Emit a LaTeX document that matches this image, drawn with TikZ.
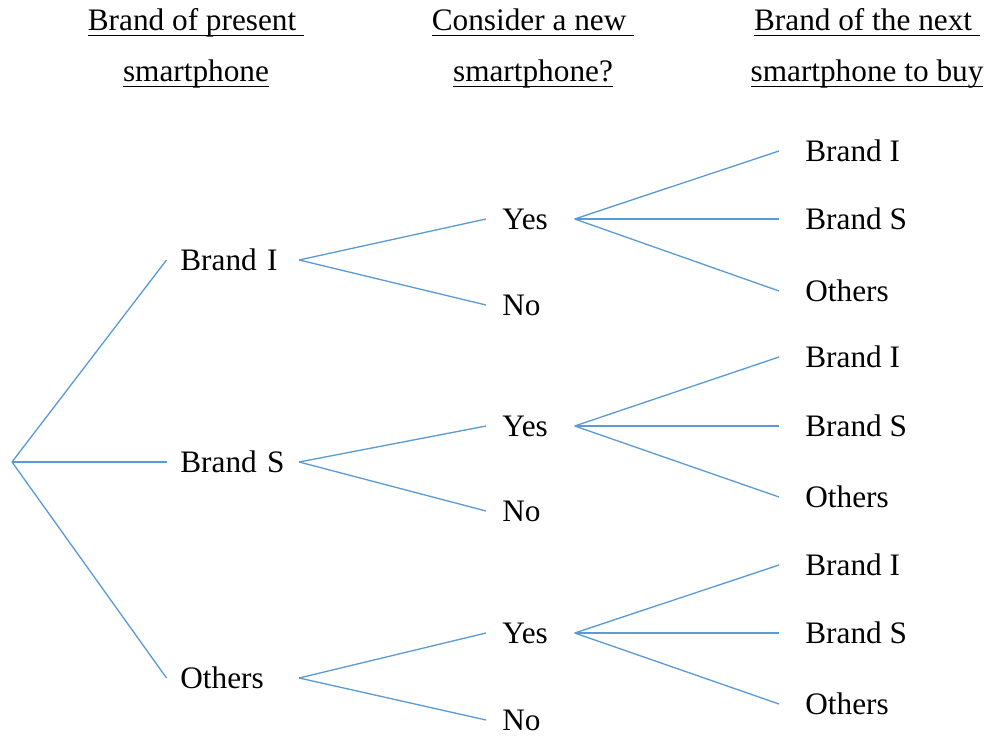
\documentclass[tikz,border=0pt]{standalone}
\usepackage{fontspec}
\setmainfont{Liberation Serif}
\usepackage{tikz}
\definecolor{branchBlue}{RGB}{91,155,213}
\newcommand{\ulhead}[1]{\setbox0=\hbox{#1}\rlap{\rule[-3pt]{\wd0}{0.8pt}}\box0}

\begin{document}
\begin{tikzpicture}[x=0.02cm, y=-0.02cm, font=\fontsize{17.8}{21.4}\selectfont]
			\tikzset{branch/.style={draw=branchBlue,line width=0.75pt}}
			\tikzset{brand/.style={anchor=west,inner ysep=0pt,inner xsep=0.27cm,text height=11.8pt,text depth=0pt,text width=2.1cm,align=left}}
			\tikzset{answer/.style={brand,inner xsep=0.32cm,text width=1.12cm}}
			\tikzset{leaf/.style={anchor=west,inner ysep=0pt,inner xsep=0.52cm,text height=11.8pt,text depth=0pt}}
			\tikzset{head/.style={anchor=base,inner sep=0pt}}
			\useasboundingbox (0,0) rectangle (987,736);

			% Headings
			\node[head] (h1a) at (196,31) {\ulhead{Brand of present\ }};
			\node[head] (h1b) at (196,82) {\ulhead{smartphone}};
			\node[head] (h2a) at (533,31) {\ulhead{Consider a new\ }};
			\node[head] (h2b) at (533,82) {\ulhead{smartphone?}};
			\node[head] (h3a) at (867,31) {\ulhead{Brand of the next\ }};
			\node[head] (h3b) at (867,82) {\ulhead{smartphone to buy}};

			% Present brand
			\coordinate (r) at (12,462);
			\node[brand] (b1) at (166.5,260) {Brand I};
			\node[brand] (b2) at (166.5,462) {Brand S};
			\node[brand] (b3) at (166.5,678) {Others};

			% New smartphone?
			\node[answer] (y1) at (486,219) {Yes};
			\node[answer] (n1) at (486,305) {No};
			\node[answer] (y2) at (486,426) {Yes};
			\node[answer] (n2) at (486,511) {No};
			\node[answer] (y3) at (486,633) {Yes};
			\node[answer] (n3) at (486,720) {No};

			% Next brand
			\node[leaf] (l11) at (779,151) {Brand I};
			\node[leaf] (l12) at (779,219) {Brand S};
			\node[leaf] (l13) at (779,291) {Others};
			\node[leaf] (l21) at (779,357) {Brand I};
			\node[leaf] (l22) at (779,426) {Brand S};
			\node[leaf] (l23) at (779,497) {Others};
			\node[leaf] (l31) at (779,565) {Brand I};
			\node[leaf] (l32) at (779,633) {Brand S};
			\node[leaf] (l33) at (779,704) {Others};

			%Branches
			\path
				(r)			edge [branch]	(b1.west)
				(r)			edge [branch]	(b2.west)
				(r)			edge [branch]	(b3.west)
				(b1.east)	edge [branch]	(y1.west)
				(b1.east)	edge [branch]	(n1.west)
				(b2.east)	edge [branch]	(y2.west)
				(b2.east)	edge [branch]	(n2.west)
				(b3.east)	edge [branch]	(y3.west)
				(b3.east)	edge [branch]	(n3.west)
				(y1.east)	edge [branch]	(l11.west)
				(y1.east)	edge [branch]	(l12.west)
				(y1.east)	edge [branch]	(l13.west)
				(y2.east)	edge [branch]	(l21.west)
				(y2.east)	edge [branch]	(l22.west)
				(y2.east)	edge [branch]	(l23.west)
				(y3.east)	edge [branch]	(l31.west)
				(y3.east)	edge [branch]	(l32.west)
				(y3.east)	edge [branch]	(l33.west)
				;
	\end{tikzpicture}
\end{document}
